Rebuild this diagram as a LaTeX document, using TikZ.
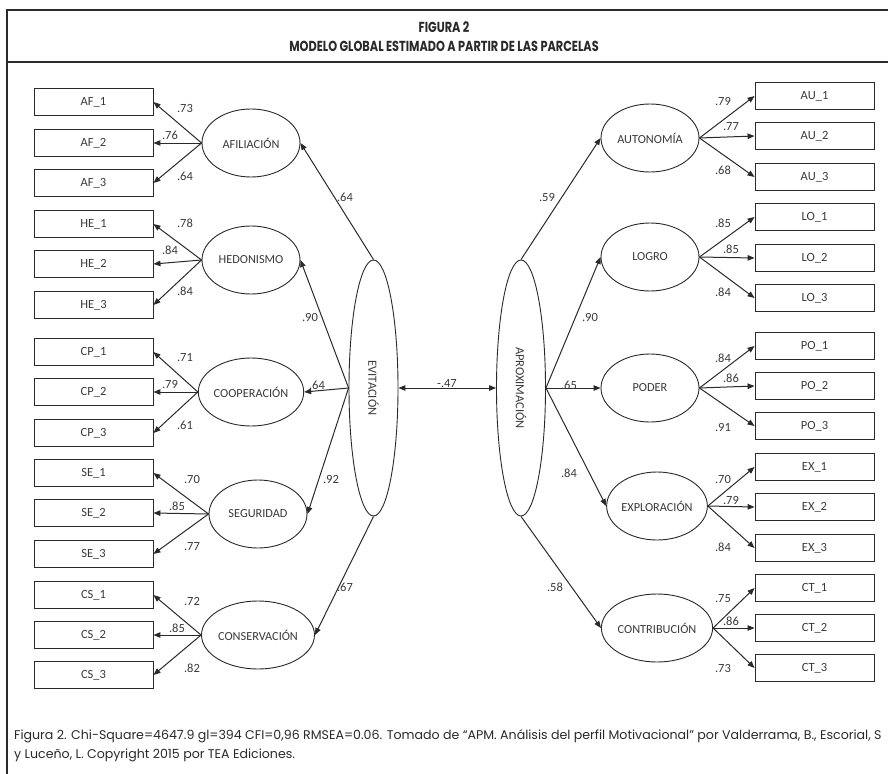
\documentclass[tikz,border=0pt]{standalone}
\usepackage{fontspec}
\setmainfont{Carlito}
\newfontfamily\capfont{Poppins}
\newfontfamily\titfont[FakeStretch=0.78]{Poppins}
\usetikzlibrary{shapes.geometric,arrows.meta}
\definecolor{ink}{HTML}{2A2A2A}
\definecolor{txt}{HTML}{3A3A3A}
\begin{document}
\begin{tikzpicture}[x=1pt,y=-1pt,
  ind/.style={draw=ink, line width=0.9pt, minimum width=119pt, minimum height=27pt, inner sep=0pt, font=\fontsize{12.5}{13}\selectfont, text=txt},
  lat/.style={ellipse, draw=ink, line width=0.9pt, minimum width=98pt, minimum height=68pt, inner sep=0pt, font=\fontsize{12.3}{13}\selectfont, text=txt},
  big/.style={ellipse, draw=ink, line width=0.9pt, minimum width=49pt, minimum height=256pt, inner sep=0pt, font=\fontsize{12.5}{13}\selectfont, text=txt},
  arr/.style={-{Triangle[length=7pt,width=5.5pt]}, line width=1pt, draw=ink},
  dbl/.style={{Triangle[length=7pt,width=5.5pt]}-{Triangle[length=7pt,width=5.5pt]}, line width=1pt, draw=ink},
  lbl/.style={font=\fontsize{12.5}{13}\selectfont, text=txt, inner sep=0pt},
  frame/.style={line width=2pt, draw=ink}
]
\useasboundingbox (0,0) rectangle (888,773);
\clip (0,0) rectangle (888,773);
\fill[white] (0,0) rectangle (888,773);
% frame
\draw[frame] (7,800) -- (7,10) -- (900,10);
\draw[frame] (7,62) -- (900,62);
\node[inner sep=0pt, text=ink, font=\titfont\bfseries\fontsize{14.5}{15}\selectfont] (t1) at (444,27) {FIGURA 2};
\node[inner sep=0pt, text=ink, font=\titfont\bfseries\fontsize{14.5}{15}\selectfont] (t2) at (444,46) {MODELO GLOBAL ESTIMADO A PARTIR DE LAS PARCELAS};

% left indicators
\foreach \n/\y in {AF_1/102,AF_2/143,AF_3/183,HE_1/224,HE_2/264,HE_3/305,CP_1/352,CP_2/392,CP_3/433,SE_1/473,SE_2/513,SE_3/554,CS_1/595,CS_2/635,CS_3/675}
  \node[ind] (\n) at (93.5,\y) {\detokenize\expandafter{\n}};
% right indicators
\foreach \n/\y in {AU_1/96,AU_2/136,AU_3/177,LO_1/217,LO_2/258,LO_3/298,PO_1/346,PO_2/386,PO_3/426,EX_1/467,EX_2/507,EX_3/548,CT_1/588,CT_2/628,CT_3/668}
  \node[ind] (\n) at (814.5,\y) {\detokenize\expandafter{\n}};

% left latents
\node[lat] (af) at (251,143) {AFILIACIÓN};
\node[lat] (he) at (251,260) {HEDONISMO};
\node[lat] (cp) at (251,392) {COOPERACIÓN};
\node[lat] (se) at (258,514) {SEGURIDAD};
\node[lat] (cs) at (258,635) {CONSERVACIÓN};
% right latents
\node[lat] (au) at (650,138) {AUTONOMÍA};
\node[lat] (lo) at (650,257) {LOGRO};
\node[lat] (po) at (650,388) {PODER};
\node[lat] (ex) at (657,506) {EXPLORACIÓN};
\node[lat] (ct) at (657,628) {CONTRIBUCIÓN};
% second-order
\node[big] (ev) at (373.5,388) {\rotatebox{-90}{EVITACIÓN}};
\node[big] (ap) at (521,388) {\rotatebox{-90}{APROXIMACIÓN}};

% loadings
\foreach \l/\a/\b/\c in {af/AF_1/AF_2/AF_3,he/HE_1/HE_2/HE_3,cp/CP_1/CP_2/CP_3,se/SE_1/SE_2/SE_3,cs/CS_1/CS_2/CS_3}{
  \draw[arr] (\l.west) -- (\a.east);
  \draw[arr] (\l.west) -- (\b.east);
  \draw[arr] (\l.west) -- (\c.east);
}
\foreach \l/\a/\b/\c in {au/AU_1/AU_2/AU_3,lo/LO_1/LO_2/LO_3,po/PO_1/PO_2/PO_3,ex/EX_1/EX_2/EX_3,ct/CT_1/CT_2/CT_3}{
  \draw[arr] (\l.east) -- (\a.west);
  \draw[arr] (\l.east) -- (\b.west);
  \draw[arr] (\l.east) -- (\c.west);
}
% structural
\draw[arr] (ev.north) -- (af.east);
\draw[arr] (ev.west) -- (he.east);
\draw[arr] (ev.west) -- (cp.east);
\draw[arr] (ev.west) -- (se.east);
\draw[arr] (ev.south) -- (cs.east);
\draw[arr] (ap.north) -- (au.west);
\draw[arr] (ap.east) -- (lo.west);
\draw[arr] (ap.east) -- (po.west);
\draw[arr] (ap.east) -- (ex.west);
\draw[arr] (ap.south) -- (ct.west);
\draw[dbl] (ev.east) -- (ap.west);

% labels left loadings
\node[lbl] (la1) at (185,108) {.73};
\node[lbl] (la2) at (170,135) {.76};
\node[lbl] (la3) at (185,176) {.64};
\node[lbl] (lh1) at (185,223) {.78};
\node[lbl] (lh2) at (170,250) {.84};
\node[lbl] (lh3) at (185,291) {.84};
\node[lbl] (lc1) at (185,358) {.71};
\node[lbl] (lc2) at (170,384) {.79};
\node[lbl] (lc3) at (185,425) {.61};
\node[lbl] (ls1) at (192,479) {.70};
\node[lbl] (ls2) at (177,506) {.85};
\node[lbl] (ls3) at (192,547) {.77};
\node[lbl] (lk1) at (192,601) {.72};
\node[lbl] (lk2) at (177,628) {.85};
\node[lbl] (lk3) at (192,668) {.82};
% labels right loadings
\node[lbl] (ru1) at (723,101) {.79};
\node[lbl] (ru2) at (731,127) {.77};
\node[lbl] (ru3) at (723,170) {.68};
\node[lbl] (rl1) at (723,223) {.85};
\node[lbl] (rl2) at (731,249) {.85};
\node[lbl] (rl3) at (723,292) {.84};
\node[lbl] (rp1) at (723,358) {.84};
\node[lbl] (rp2) at (731,378) {.86};
\node[lbl] (rp3) at (723,427) {.91};
\node[lbl] (re1) at (723,479) {.70};
\node[lbl] (re2) at (731,500) {.79};
\node[lbl] (re3) at (723,547) {.84};
\node[lbl] (rc1) at (723,599) {.75};
\node[lbl] (rc2) at (731,621) {.86};
\node[lbl] (rc3) at (723,668) {.73};
% structural labels
\node[lbl] (s1) at (345,197) {.64};
\node[lbl] (s2) at (310,317) {.90};
\node[lbl] (s3) at (317,385) {.64};
\node[lbl] (s4) at (331,479) {.92};
\node[lbl] (s5) at (345,587) {.67};
\node[lbl] (s6) at (447,384) {-.47};
\node[lbl] (s7) at (547,197) {.59};
\node[lbl] (s8) at (590,317) {.90};
\node[lbl] (s9) at (569,385) {.65};
\node[lbl] (s10) at (569,473) {.84};
\node[lbl] (s11) at (555,587) {.58};

% caption
\node[anchor=west, inner sep=0pt, text=ink, font=\capfont\fontsize{12.6}{14}\selectfont] (cap1) at (14,736) {Figura 2. Chi-Square=4647.9 gl=394 CFI=0,96 RMSEA=0.06. Tomado de “APM. Análisis del perfil Motivacional” por Valderrama, B., Escorial, S};
\node[anchor=west, inner sep=0pt, text=ink, font=\capfont\fontsize{12.6}{14}\selectfont] (cap2) at (14,755) {y Luceño, L. Copyright 2015 por TEA Ediciones.};
\end{tikzpicture}
\end{document}
